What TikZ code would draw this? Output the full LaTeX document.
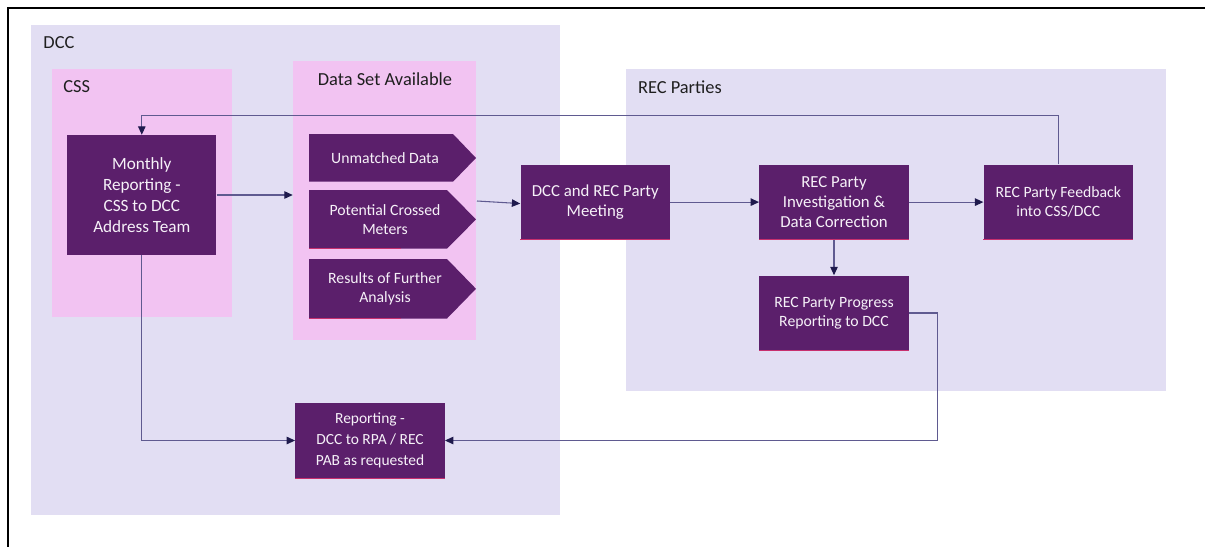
\documentclass[tikz,border=0pt]{standalone}
\usepackage{fontspec}
\setmainfont{Carlito}
\usetikzlibrary{arrows.meta,fit}
\definecolor{boxpurple}{HTML}{5B1F6B}
\definecolor{lavender}{HTML}{E2DEF3}
\definecolor{pinkzone}{HTML}{F2C3F2}
\definecolor{linecol}{HTML}{5F5A90}
\definecolor{headcol}{HTML}{1F1A4D}
\definecolor{edgepink}{HTML}{C8306E}
\definecolor{boxtext}{HTML}{F6F1F8}
\begin{document}
\begin{tikzpicture}[x=0.75pt,y=-0.75pt,
  zone/.style={fill=#1, draw=none, inner sep=0pt},
  zonelabel/.style={anchor=base west, inner sep=0pt, text=black!88, font=\fontsize{13.8}{16}\selectfont},
  pbox/.style={fill=boxpurple, draw=none, inner sep=0pt, minimum width=112pt, minimum height=56.25pt, align=center, text=boxtext},
  bigtext/.style={font=\fontsize{12.6}{15.6}\selectfont},
  smalltext/.style={font=\fontsize{11.8}{14.1}\selectfont},
  chevtext/.style={inner sep=0pt, align=center, text=boxtext, font=\fontsize{11.8}{14.1}\selectfont},
  conn/.style={draw=linecol, line width=0.8pt, -{Triangle[length=6.3pt,width=5.6pt,color=headcol]}},
  pinkedge/.style={draw=edgepink, line width=0.6pt}
]
\useasboundingbox (0,0) rectangle (1205,547);
\fill[white] (0,0) rectangle (1205,547);

% outer frame (top and left edges)
\draw[black, line width=1.4pt] (1205,8) -- (7.6,8) -- (7.6,547);

% zones
\node[zone=lavender, fit={(31.4,25.1) (559.5,514.5)}] (dcc) {};
\node[zone=lavender, fit={(625.8,69.4) (1165.6,391)}] (rec) {};
\node[zone=pinkzone, fit={(52,69) (232,317)}] (css) {};
\node[zone=pinkzone, fit={(293,61) (476,340)}] (ds) {};

\node[zonelabel] (dcclab) at (43.2,48.6) {DCC};
\node[zonelabel] (csslab) at (63.1,92.6) {CSS};
\node[zonelabel] (reclab) at (637.8,93.3) {REC Parties};
\node[zonelabel, anchor=base] (dslab) at (385,85.3) {Data Set Available};

% boxes
\node[pbox, minimum height=90pt, font=\fontsize{12.9}{15.75}\selectfont] (mon) at (141.8,195) {Monthly\\Reporting -\\CSS to DCC\\Address Team};
\node[pbox, bigtext] (meet) at (595.2,202.1) {DCC and REC Party\\Meeting};
\node[pbox, font=\fontsize{12.6}{15}\selectfont] (inv) at (834,202.1) {REC Party\\Investigation \&\\Data Correction};
\node[pbox, smalltext] (fb) at (1058.3,202.1) {REC Party Feedback\\into CSS/DCC};
\node[pbox, smalltext] (prog) at (834,313) {REC Party Progress\\Reporting to DCC};
\node[pbox, font=\fontsize{11.6}{15.8}\selectfont] (rep) at (370,440.5) {Reporting -\\DCC to RPA / REC\\PAB as requested};

\foreach \n in {meet,inv,fb,prog,rep}
  \draw[pinkedge] (\n.south west) -- (\n.south east);

% chevrons
\fill[boxpurple] (309,134) -- (453,134) -- (476,158) -- (453,181.7) -- (309,181.7) -- cycle;
\fill[boxpurple] (309,190) -- (447,190) -- (476,219.4) -- (447,248.7) -- (309,248.7) -- cycle;
\fill[boxpurple] (309,259) -- (447,259) -- (476,288.8) -- (447,318.5) -- (309,318.5) -- cycle;
\draw[pinkedge] (309,248.4) -- (401,248.4);
\draw[pinkedge] (309,318.2) -- (401,318.2);
\node[chevtext] (unm) at (385,158) {Unmatched Data};
\node[chevtext] (pcm) at (385,219.4) {Potential Crossed\\Meters};
\node[chevtext] (rfa) at (385,288.8) {Results of Further\\Analysis};

% connectors
\coordinate (dsout) at (477,201);
\coordinate (fbtop) at (1058.3,115.5);
\coordinate (prturn) at (937.6,440.5);

\draw[conn] (mon.east) -- (mon.east -| ds.west);
\draw[conn] (dsout) -- ([yshift=-1.1pt]meet.west);
\draw[conn] (meet.east) -- (inv.west);
\draw[conn] (inv.east) -- (fb.west);
\draw[conn] (inv.south) -- (prog.north);
\draw[conn] (fb.north) -- (fbtop) -| (mon.north);
\draw[conn] (mon.south) |- (rep.west);
\draw[conn] (prog.east) -| (prturn) -- (rep.east);
\end{tikzpicture}
\end{document}
